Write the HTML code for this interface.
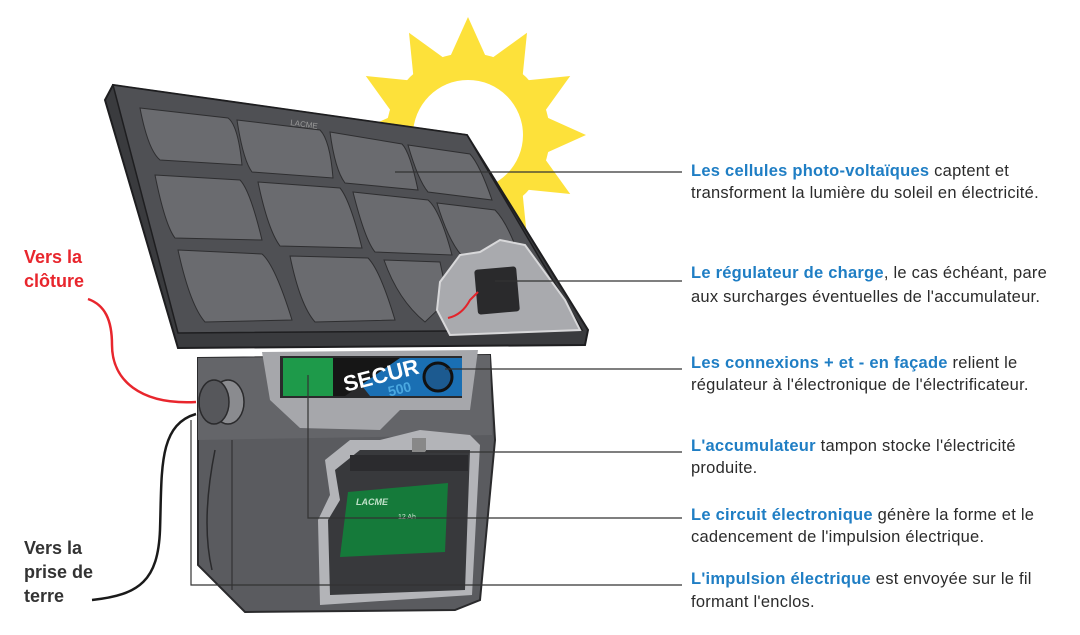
<!DOCTYPE html>
<html><head><meta charset="utf-8"><style>
html,body{margin:0;padding:0;background:#fff;width:1080px;height:635px;overflow:hidden}
svg{display:block}
text{font-family:"Liberation Sans",Arial,sans-serif}
</style></head><body>
<svg width="1080" height="635" viewBox="0 0 1080 635" xmlns="http://www.w3.org/2000/svg">
<!-- sun -->
<g fill="#fde13a" transform="translate(468,135)">
<circle r="82"/>
<g id="ray"><path d="M-18,-78 L0,-118 L18,-78 Z"/></g>
<use href="#ray" transform="rotate(30)"/>
<use href="#ray" transform="rotate(60)"/>
<use href="#ray" transform="rotate(90)"/>
<use href="#ray" transform="rotate(120)"/>
<use href="#ray" transform="rotate(150)"/>
<use href="#ray" transform="rotate(180)"/>
<use href="#ray" transform="rotate(210)"/>
<use href="#ray" transform="rotate(240)"/>
<use href="#ray" transform="rotate(270)"/>
<use href="#ray" transform="rotate(300)"/>
<use href="#ray" transform="rotate(330)"/>
</g>
<circle cx="468" cy="135" r="55" fill="#fff"/>
<!-- body -->
<path d="M198,358 L490,355 L495,440 L480,600 L455,610 L245,612 L198,565 Z" fill="#5a5b5f" stroke="#2a2a2c" stroke-width="2"/>
<path d="M198,358 L490,355 L492,435 L198,440 Z" fill="#646569"/>
<path d="M215,450 C205,500 205,540 212,570" fill="none" stroke="#2a2a2c" stroke-width="1.5"/>
<path d="M232,440 L232,590" stroke="#3a3a3d" stroke-width="1.5"/>
<!-- display -->
<path d="M262,352 L478,350 L470,410 L400,410 L380,430 L300,428 L270,400 Z" fill="#a6a7ab"/>
<rect x="280" y="356" width="182" height="42" fill="#2a2a2c"/>
<rect x="283" y="358" width="50" height="38" fill="#1e9a4a"/>
<path d="M340,358 L462,358 L462,396 L370,396 Z" fill="#1a6fb3"/>
<path d="M333,358 L400,358 L345,396 L333,396 Z" fill="#161616"/>
<text x="343" y="388" font-size="22" font-weight="bold" fill="#fff" transform="rotate(-14 360 380)">SECUR</text>
<text x="388" y="395" font-size="14" font-weight="bold" fill="#4aa8e0" transform="rotate(-14 395 390)">500</text>
<circle cx="438" cy="377" r="14" fill="#1c5a90" stroke="#111" stroke-width="3"/>
<!-- battery cutaway -->
<path d="M325,460 L350,440 L380,440 L420,430 L470,435 L480,445 L472,595 L320,605 L318,520 L330,495 Z" fill="#b3b4b8"/>
<path d="M335,470 L360,450 L470,450 L465,590 L330,595 L328,520 L340,500 Z" fill="#38393c"/>
<rect x="350" y="455" width="118" height="16" fill="#2b2b2e"/>
<rect x="412" y="438" width="14" height="14" fill="#888"/>
<path d="M348,492 L448,483 L445,552 L340,557 Z" fill="#157a3a"/>
<text x="356" y="505" font-size="9" font-weight="bold" fill="#bfe0c8" font-style="italic">LACME</text>
<text x="398" y="519" font-size="7" fill="#cfe8d4">12 Ah</text>
<!-- knob -->
<ellipse cx="228" cy="402" rx="16" ry="22" fill="#8a8b8f" stroke="#2a2a2c" stroke-width="1.5"/>
<ellipse cx="214" cy="402" rx="15" ry="22" fill="#56575b" stroke="#2a2a2c" stroke-width="1.5"/>
<!-- panel -->
<path d="M105,100 L113,85 L467,135 L588,330 L585,345 L178,348 Z" fill="#3a3b3e" stroke="#1e1e20" stroke-width="2"/>
<path d="M113,85 L467,135 L582,330 L178,333 Z" fill="#4f5054" stroke="#1e1e20" stroke-width="1.5"/>
<g fill="#6a6b6f" stroke="#2e2e30" stroke-width="1">
<path d="M140,108 L228,118 Q238,125 242,165 L160,160 Q148,150 140,108Z"/>
<path d="M237,120 L320,130 Q330,140 333,178 L252,172 Q243,160 237,120Z"/>
<path d="M330,132 L402,144 Q410,152 418,190 L345,183 Q335,170 330,132Z"/>
<path d="M408,145 L470,154 Q480,165 492,200 L428,192 Q418,180 408,145Z"/>
<path d="M155,175 L240,180 Q250,190 262,240 L175,238 Q165,225 155,175Z"/>
<path d="M258,182 L340,188 Q350,200 362,248 L280,246 Q268,230 258,182Z"/>
<path d="M353,192 L428,200 Q440,210 452,255 L375,252 Q365,240 353,192Z"/>
<path d="M437,203 L495,210 Q505,220 515,245 L462,256 Q448,240 437,203Z"/>
<path d="M178,250 L262,254 Q275,265 292,320 L205,322 Q190,305 178,250Z"/>
<path d="M290,256 L368,258 Q380,270 395,320 L315,322 Q300,305 290,256Z"/>
<path d="M384,260 L440,262 L448,300 L425,322 Q398,300 384,260Z"/>
</g>
<text x="290" y="125" font-size="8" fill="#999" transform="rotate(8 290 125)">LACME</text>
<!-- regulator cutaway -->
<path d="M440,282 L460,255 L480,252 L500,240 L525,245 L565,300 L580,330 L450,335 L437,310 Z" fill="#a9aaae" stroke="#d8d8da" stroke-width="2"/>
<rect x="476" y="268" width="42" height="45" rx="3" fill="#2a2a2c" transform="rotate(-5 497 290)"/>
<path d="M448,318 Q462,315 470,300 L478,292" fill="none" stroke="#e3242b" stroke-width="2"/>
<!-- wires -->
<path d="M88,299 C105,305 112,320 112,345 C112,380 140,405 196,402" fill="none" stroke="#e8262d" stroke-width="2.5"/>
<path d="M92,600 C140,595 158,580 160,530 C162,470 158,425 196,414" fill="none" stroke="#1a1a1a" stroke-width="2.5"/>
<!-- callout lines -->
<g stroke="#333" stroke-width="1.2" fill="none">
<path d="M395,172 H682"/>
<path d="M495,281 H682"/>
<path d="M445,369 H682"/>
<path d="M425,452 H682"/>
<path d="M308,375 V518 H682"/>
<path d="M191,420 V585 H682"/>
</g>
<!-- labels -->
<g font-size="16.5" fill="#2b2b2b" letter-spacing="0.25">
<text x="691" y="176"><tspan font-weight="bold" fill="#1f7ec4">Les cellules photo-voltaïques</tspan> captent et</text>
<text x="691" y="198">transforment la lumière du soleil en électricité.</text>
<text x="691" y="278"><tspan font-weight="bold" fill="#1f7ec4">Le régulateur de charge</tspan>, le cas échéant, pare</text>
<text x="691" y="302">aux surcharges éventuelles de l'accumulateur.</text>
<text x="691" y="368"><tspan font-weight="bold" fill="#1f7ec4">Les connexions + et - en façade</tspan> relient le</text>
<text x="691" y="390">régulateur à l'électronique de l'électrificateur.</text>
<text x="691" y="451"><tspan font-weight="bold" fill="#1f7ec4">L'accumulateur</tspan> tampon stocke l'électricité</text>
<text x="691" y="473">produite.</text>
<text x="691" y="520"><tspan font-weight="bold" fill="#1f7ec4">Le circuit électronique</tspan> génère la forme et le</text>
<text x="691" y="542">cadencement de l'impulsion électrique.</text>
<text x="691" y="584"><tspan font-weight="bold" fill="#1f7ec4">L'impulsion électrique</tspan> est envoyée sur le fil</text>
<text x="691" y="607">formant l'enclos.</text>
</g>
<g font-size="18" font-weight="bold">
<text x="24" y="263" fill="#e8262d">Vers la</text>
<text x="24" y="287" fill="#e8262d">clôture</text>
<text x="24" y="554" fill="#333">Vers la</text>
<text x="24" y="578" fill="#333">prise de</text>
<text x="24" y="602" fill="#333">terre</text>
</g>
</svg>
</body></html>
